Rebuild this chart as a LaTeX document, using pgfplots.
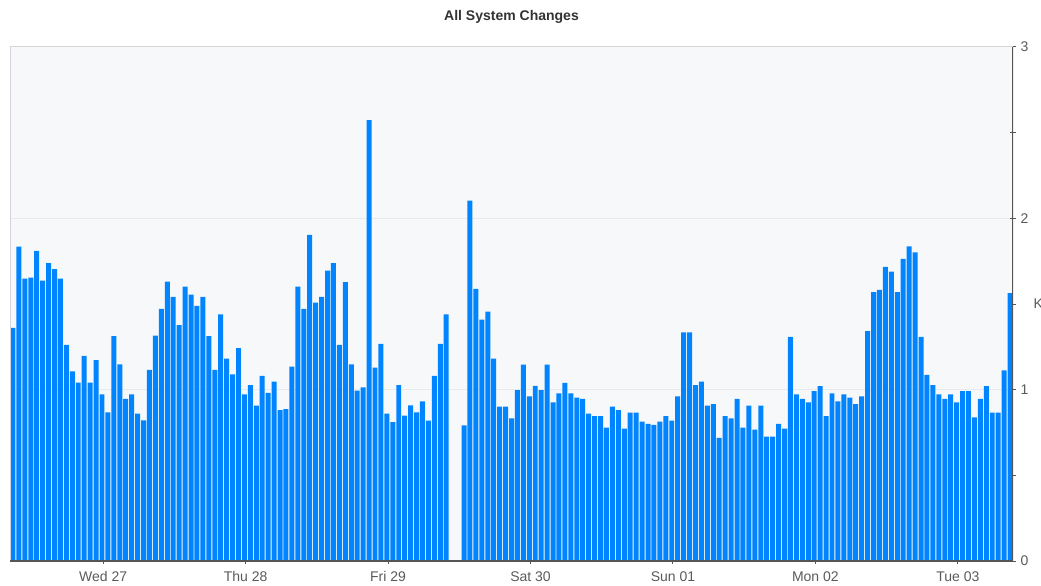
\documentclass[border=0pt]{standalone}
\usepackage{fontspec}
\setmainfont{Liberation Sans}
\usepackage{pgfplots}
\pgfplotsset{compat=1.18}
\definecolor{barblue}{RGB}{0,132,255}
\definecolor{bgc}{RGB}{247,248,250}
\definecolor{gridc}{RGB}{232,234,238}
\definecolor{axc}{RGB}{85,85,85}
\definecolor{lblc}{RGB}{90,90,90}
\definecolor{titc}{RGB}{51,51,51}
\begin{document}
\begin{tikzpicture}
\begin{axis}[
  name=ax,
  scale only axis, width=1003pt, height=514pt,
  xmin=-0.5, xmax=168.5, ymin=0, ymax=3,
  enlargelimits=false,
  axis background/.style={fill=bgc},
  axis line style={draw=none},
  xtick={15.2,39.2,63.2,87.2,111.2,135.2,159.2},
  xticklabels={Wed 27,Thu 28,Fri 29,Sat 30,Sun 01,Mon 02,Tue 03},
  ytick={0,1,2,3}, yticklabels={0,1,2,3},
  minor ytick={0.5,1.5,2.5},
  xtick pos=lower, ytick pos=right, yticklabel pos=right,
  tick align=center,
  major tick length=6pt, minor tick length=6pt,
  every tick/.style={draw=axc, line width=1pt},
  minor tick style={draw=axc, line width=1pt},
  ymajorgrids, major grid style={draw=gridc, line width=1pt},
  tick label style={font=\fontsize{14}{16}\selectfont, text=lblc},
  xticklabel style={anchor=north, yshift=-4pt},
  yticklabel style={anchor=west, xshift=1pt},
  title={All System Changes},
  every axis title/.style={at={(rel axis cs:0.5,1)}, anchor=center, yshift=30pt,
    font=\bfseries\fontsize{14}{16}\selectfont, text=titc},
  ylabel={K},
  every axis y label/.style={at={(rel axis cs:1,0.5)}, anchor=west, xshift=17pt,
    font=\fontsize{14}{16}\selectfont, text=lblc},
]
\addplot[ybar, bar width=0.84, fill=barblue, draw=none] table {
x y
0 1.36
1 1.835
2 1.648
3 1.654
4 1.81
5 1.636
6 1.738
7 1.703
8 1.648
9 1.261
10 1.107
11 1.041
12 1.197
13 1.041
14 1.173
15 0.973
16 0.868
17 1.313
18 1.148
19 0.946
20 0.973
21 0.86
22 0.821
23 1.115
24 1.315
25 1.471
26 1.630
27 1.541
28 1.376
29 1.601
30 1.555
31 1.489
32 1.541
33 1.313
34 1.115
35 1.440
36 1.181
37 1.090
38 1.242
39 0.973
40 1.027
41 0.907
42 1.080
43 0.981
44 1.047
45 0.880
46 0.886
47 1.134
48 1.601
49 1.471
50 1.903
51 1.508
52 1.541
53 1.695
54 1.738
55 1.261
56 1.627
57 1.148
58 0.994
59 1.014
60 2.573
61 1.129
62 1.267
63 0.86
64 0.811
65 1.027
66 0.848
67 0.909
68 0.868
69 0.932
70 0.819
71 1.080
72 1.267
73 1.440
76 0.792
77 2.103
78 1.588
79 1.409
80 1.455
81 1.181
82 0.901
83 0.901
84 0.833
85 0.998
86 1.146
87 0.961
88 1.022
89 0.998
90 1.146
91 0.926
92 0.979
93 1.039
94 0.979
95 0.953
96 0.946
97 0.86
98 0.846
99 0.846
100 0.778
101 0.901
102 0.880
103 0.772
104 0.866
105 0.866
106 0.813
107 0.801
108 0.794
109 0.813
110 0.846
111 0.819
112 0.961
113 1.335
114 1.335
115 1.027
116 1.047
117 0.907
118 0.915
119 0.718
120 0.846
121 0.833
122 0.946
123 0.778
124 0.907
125 0.767
126 0.907
127 0.726
128 0.726
129 0.800
130 0.772
131 1.308
132 0.973
133 0.946
134 0.926
135 0.992
136 1.020
137 0.846
138 0.979
139 0.932
140 0.973
141 0.953
142 0.915
143 0.961
144 1.341
145 1.569
146 1.582
147 1.716
148 1.689
149 1.569
150 1.763
151 1.837
152 1.802
153 1.308
154 1.086
155 1.026
156 0.973
157 0.946
158 0.973
159 0.926
160 0.992
161 0.992
162 0.839
163 0.946
164 1.020
165 0.866
166 0.866
167 1.113
168 1.563
};
\draw[gridc!80!gray, line width=1pt] (rel axis cs:0,0) -- (rel axis cs:0,1) -- (rel axis cs:1,1);
\draw[axc, line width=1.5pt] (rel axis cs:0,0) -- (rel axis cs:1,0);
\draw[axc, line width=1.5pt] (rel axis cs:1,0) -- (rel axis cs:1,1);
\end{axis}
\pgfresetboundingbox
\path[use as bounding box] ([xshift=-10pt,yshift=-24pt]ax.south west) rectangle ([xshift=28pt,yshift=47pt]ax.north east);
\end{tikzpicture}
\end{document}
